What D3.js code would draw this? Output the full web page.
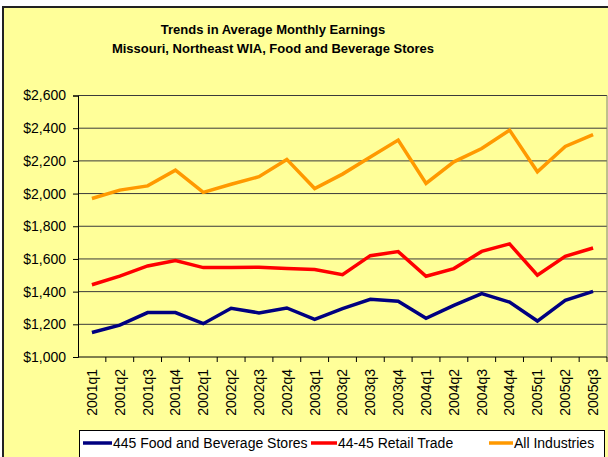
<!DOCTYPE html>
<html>
<head>
<meta charset="utf-8">
<script src="https://cdn.jsdelivr.net/npm/d3@7"></script>
<style>
  body { margin: 0; background: #fff; }
  svg { display: block; font-family: "Liberation Sans", Arial, sans-serif; }
</style>
</head>
<body>
<div id="chart"></div>
<script>
// Data
var quarters = ["2001q1", "2001q2", "2001q3", "2001q4", "2002q1", "2002q2", "2002q3", "2002q4",
                "2003q1", "2003q2", "2003q3", "2003q4", "2004q1", "2004q2", "2004q3", "2004q4",
                "2005q1", "2005q2", "2005q3"];
var foodStores = [1150, 1195, 1272, 1272, 1204, 1298, 1270, 1300, 1230, 1296, 1353, 1341, 1237, 1316, 1388, 1336, 1220, 1347, 1402];
var retailTrade = [1442, 1495, 1557, 1590, 1547, 1548, 1549, 1541, 1535, 1504, 1620, 1645, 1494, 1541, 1646, 1692, 1500, 1616, 1667];
var allIndustries = [1970, 2021, 2047, 2143, 2007, 2057, 2103, 2209, 2031, 2119, 2224, 2327, 2062, 2194, 2276, 2388, 2133, 2288, 2361];
var yTicks = [1000, 1200, 1400, 1600, 1800, 2000, 2200, 2400, 2600];
var seriesNames = ["445 Food and Beverage Stores", "44-45 Retail Trade", "All Industries"];
var seriesColors = ["#000080", "#ff0000", "#ff9900"];

var width = 608;
var height = 457;
// plot area edges
var plotLeft = 78, plotRight = 607, plotTop = 95.5, plotBottom = 357;

var svg = d3.select("#chart")
            .append("svg")
            .attr("width", width)
            .attr("height", height);

// chart frame (yellow background, cropped on right/bottom)
svg.append("rect")
   .attr("x", 3).attr("y", 7)
   .attr("width", 700).attr("height", 500)
   .attr("fill", "#ffff99")
   .attr("stroke", "#222")
   .attr("stroke-width", 2);

// Title
var title = svg.append("text")
               .attr("text-anchor", "middle")
               .attr("font-weight", "bold")
               .attr("font-size", 13)
               .attr("fill", "#000");
title.append("tspan").attr("x", 273).attr("y", 34).text("Trends in Average Monthly Earnings");
title.append("tspan").attr("x", 273).attr("y", 53).text("Missouri, Northeast WIA, Food and Beverage Stores");

// Scales
var x = d3.scaleBand().domain(quarters).range([plotLeft, plotRight]);
var y = d3.scaleLinear().domain([1000, 2600]).range([plotBottom, plotTop]);
var cx = function (q) { return x(q) + x.bandwidth() / 2; };

// Gridlines
svg.append("g")
   .selectAll("line")
   .data(yTicks.slice(1))
   .enter()
        .append("line")
        .attr("x1", plotLeft).attr("x2", plotRight)
        .attr("y1", function (d) { return y(d); })
        .attr("y2", function (d) { return y(d); })
        .attr("stroke", "#3a3a3a")
        .attr("stroke-width", 1);

// right border of plot area
svg.append("line")
   .attr("x1", plotRight).attr("x2", plotRight)
   .attr("y1", plotTop).attr("y2", plotBottom)
   .attr("stroke", "#808080");

// Y axis
var yAxis = svg.append("g")
               .attr("transform", "translate(" + plotLeft + ",0)")
               .call(d3.axisLeft(y).tickValues(yTicks).tickSize(5).tickPadding(7).tickFormat(d3.format("$,")));
yAxis.select(".domain").attr("stroke", "#000");
yAxis.selectAll(".tick line").attr("stroke", "#000");
yAxis.selectAll("text")
     .attr("font-size", 14)
     .attr("font-family", "Liberation Sans, Arial, sans-serif")
     .attr("fill", "#000");

// X axis line and boundary ticks
svg.append("line")
   .attr("x1", plotLeft).attr("x2", plotRight)
   .attr("y1", plotBottom).attr("y2", plotBottom)
   .attr("stroke", "#000");

svg.append("g")
   .selectAll("line")
   .data(quarters)
   .enter()
        .append("line")
        .attr("x1", function (d) { return x(d) + x.bandwidth(); })
        .attr("x2", function (d) { return x(d) + x.bandwidth(); })
        .attr("y1", plotBottom).attr("y2", plotBottom + 5)
        .attr("stroke", "#000");

svg.append("g")
   .selectAll("text")
   .data(quarters)
   .enter()
        .append("text")
        .attr("transform", function (d) { return "translate(" + cx(d) + "," + (plotBottom + 12) + ") rotate(-90)"; })
        .attr("text-anchor", "end")
        .attr("dy", "0.35em")
        .attr("font-size", 14)
        .attr("fill", "#000")
        .text(function (d) { return d; });

// Lines
var line = d3.line()
             .x(function (d, i) { return cx(quarters[i]); })
             .y(function (d) { return y(d); });

[foodStores, retailTrade, allIndustries].forEach(function (values, k) {
    svg.append("path")
       .attr("d", line(values))
       .attr("fill", "none")
       .attr("stroke", seriesColors[k])
       .attr("stroke-width", 3.5)
       .attr("stroke-linejoin", "miter");
});

// Legend
svg.append("rect")
   .attr("x", 79.5).attr("y", 430.5)
   .attr("width", 525).attr("height", 40)
   .attr("fill", "#fff")
   .attr("stroke", "#000");

var legendLineStart = [83, 311, 489];
var legendLineEnd = [112, 337, 513];
var legend = svg.append("g")
                .selectAll("g")
                .data(seriesNames)
                .enter()
                    .append("g");
legend.append("line")
      .attr("x1", function (d, i) { return legendLineStart[i]; })
      .attr("x2", function (d, i) { return legendLineEnd[i]; })
      .attr("y1", 443).attr("y2", 443)
      .attr("stroke", function (d, i) { return seriesColors[i]; })
      .attr("stroke-width", 3.5);
legend.append("text")
      .attr("x", function (d, i) { return legendLineEnd[i] + 1; })
      .attr("y", 448)
      .attr("font-size", 14)
      .attr("fill", "#000")
      .text(function (d) { return d; });
</script>
</body>
</html>
